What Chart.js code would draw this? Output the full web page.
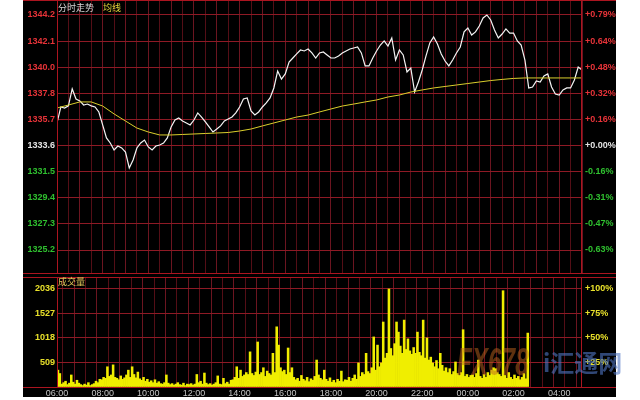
<!DOCTYPE html>
<html lang="zh">
<head>
<meta charset="utf-8">
<title>分时走势</title>
<script src="https://cdn.jsdelivr.net/npm/chart.js@4.4.1/dist/chart.umd.min.js"></script>
<style>
  html, body { margin: 0; padding: 0; background: #fff; width: 640px; height: 400px; overflow: hidden; }
  #board { position: absolute; left: 23px; top: 0; width: 593px; height: 397px; background: #000; }
  #board canvas { position: absolute; left: 0; }
  #price { top: 0; }
  #volume { top: 277px; }
  .txt { position: absolute; font-family: "Noto Sans CJK SC", sans-serif; font-size: 9px; line-height: 10px; white-space: nowrap; z-index: 2; }
  .mark { position: absolute; white-space: nowrap; z-index: 3; pointer-events: none; }
</style>
</head>
<body>
<div id="board">
  <canvas id="price" width="593" height="274"></canvas>
  <canvas id="volume" width="593" height="120"></canvas>
</div>
<div class="txt" style="left:58px; top:3px; color:#d6d6d6;">分时走势</div>
<div class="txt" style="left:103px; top:3px; color:#e2d63a;">均线</div>
<div class="txt" style="left:58px; top:277px; color:#e0c458;">成交量</div>
<div class="mark" style="left:457px; top:341px; font: italic bold 38px 'Liberation Sans', sans-serif; color: rgba(190,100,30,0.5); transform: scaleX(0.64); transform-origin: left top;">FX678</div>
<div class="mark" style="left:543px; top:347px; font: bold 24px 'Noto Sans CJK SC', sans-serif; line-height: 30px; color: rgba(80,118,196,0.6);">i汇通网</div>

<script>
const timeLabels = ['06:00', '08:00', '10:00', '12:00', '14:00', '16:00', '18:00', '20:00', '22:00', '00:00', '02:00', '04:00']
const priceLabels = ['1344.2', '1342.1', '1340.0', '1337.8', '1335.7', '1333.6', '1331.5', '1329.4', '1327.3', '1325.2']
const pctLabels = ['+0.79%', '+0.64%', '+0.48%', '+0.32%', '+0.16%', '+0.00%', '-0.16%', '-0.31%', '-0.47%', '-0.63%']
const volLabels = ['2036', '1527', '1018', '509']
const volPctLabels = ['+100%', '+75%', '+50%', '+25%']

// price, one value every 10 minutes from 06:00
const priceValues = [
    1335.47, 1336.76, 1336.68, 1336.85, 1338.22, 1337.41, 1337.25, 1336.92, 1337.00, 1336.85,
    1336.76, 1336.36, 1335.31, 1334.26, 1333.85, 1333.29, 1333.61, 1333.45, 1333.12, 1331.83,
    1332.48, 1333.45, 1333.85, 1334.09, 1333.53, 1333.29, 1333.61, 1333.69, 1333.85, 1334.26,
    1335.15, 1335.71, 1335.87, 1335.63, 1335.47, 1335.31, 1335.71, 1336.28, 1335.95, 1335.55,
    1335.15, 1334.74, 1334.98, 1335.23, 1335.63, 1335.79, 1335.95, 1336.28, 1336.76, 1337.41,
    1337.49, 1336.44, 1336.12, 1336.36, 1336.76, 1337.09, 1337.49, 1338.30, 1339.67, 1339.02,
    1339.43, 1340.40, 1340.72, 1341.05, 1341.37, 1341.29, 1341.45, 1341.13, 1340.72, 1341.13,
    1341.21, 1340.97, 1340.72, 1340.72, 1340.89, 1341.13, 1341.29, 1341.45, 1341.53, 1341.61,
    1341.13, 1340.08, 1340.08, 1340.72, 1341.29, 1341.77, 1342.10, 1341.69, 1342.34, 1340.56,
    1341.37, 1340.97, 1339.59, 1339.91, 1337.97, 1338.78, 1339.75, 1340.89, 1341.94, 1342.42,
    1341.86, 1341.05, 1340.48, 1340.08, 1340.56, 1341.13, 1341.61, 1342.83, 1343.15, 1342.58,
    1342.83, 1343.31, 1343.96, 1344.20, 1343.80, 1342.99, 1342.34, 1342.66, 1343.07, 1342.74,
    1342.74, 1342.10, 1341.77, 1340.56, 1338.30, 1338.38, 1338.86, 1338.78, 1339.27, 1339.43,
    1338.38, 1337.81, 1337.73, 1338.14, 1338.30, 1338.30, 1338.94, 1339.99, 1339.75
]

// average line, one value every 30 minutes
const avgValues = [
    1336.68, 1336.92, 1337.17, 1337.17, 1336.84, 1336.20, 1335.63, 1335.06, 1334.74, 1334.50,
    1334.50, 1334.54, 1334.58, 1334.62, 1334.66, 1334.70, 1334.82, 1334.98, 1335.23, 1335.47,
    1335.71, 1335.95, 1336.11, 1336.36, 1336.60, 1336.84, 1337.00, 1337.17, 1337.33, 1337.57,
    1337.73, 1337.97, 1338.14, 1338.30, 1338.42, 1338.54, 1338.66, 1338.78, 1338.90, 1338.99,
    1339.07, 1339.11, 1339.11, 1339.11, 1339.11, 1339.11, 1339.11
]

// volume, one bar every 5 minutes from 06:00
const volValues = [
    350, 280, 60, 90, 120, 50, 80, 250, 100, 60, 140, 80, 50, 30, 60, 40, 90, 30, 50, 70,
    120, 90, 160,
    150, 200, 180, 420, 220, 250, 460, 200, 180, 150, 230, 160, 190, 250, 350, 200, 420, 260,
    190, 310, 170, 140, 200, 120, 160, 100, 130, 90, 150, 80, 110, 70,
    60, 90, 250, 80, 50, 70, 40, 60, 90, 50, 40, 80, 30, 60, 50, 70, 40, 60, 260, 90,
    120, 60, 290, 80, 50, 70, 40, 60, 90, 230, 60, 50, 180, 70, 100, 60, 140,
    150, 200, 420, 180, 350, 220, 250, 300, 260, 730, 280, 240, 310, 935, 260, 300, 400, 220,
    330, 280, 250, 700, 300, 1250, 870, 400, 320, 350, 260, 810, 300, 400,
    200, 150, 180, 120, 240, 160, 130, 200, 110, 170, 140, 220, 560, 250, 180, 150, 350, 160,
    120, 190, 100, 140, 90, 160, 120, 330, 110, 150,
    140, 200, 120, 180, 250, 160, 500, 220, 300, 260, 700, 320, 280, 400, 1040, 350, 870, 420, 500,
    1350, 600, 700, 2036, 800, 650, 900, 1350, 1140, 850, 700, 1390, 780, 1000, 750, 680, 820,
    700, 1140, 720, 650, 1390, 600, 1020, 560, 620,
    500, 420, 550, 380, 700, 450, 330, 400, 300, 380, 260, 320, 520, 280, 240, 300, 1190, 220,
    260, 200, 240,
    250, 200, 280, 560, 220, 180, 260, 200, 300, 240, 350, 400, 380, 300, 260, 220, 2000, 240,
    180, 300, 200, 160, 250, 180, 220, 150, 200, 280, 170, 1120
]

const priceTop = parseFloat(priceLabels[0])
const priceBottom = parseFloat(priceLabels[priceLabels.length - 1])
const priceStep = (priceTop - priceBottom) / (priceLabels.length - 1)
const volTicks = [0].concat(volLabels.slice().reverse().map(Number))

const gridRed = '#8e1a25'
const frameRed = '#ac1520'

function labelColor(ctx) {
    const s = pctLabels[ctx.index]
    if (s === '+0.00%') return '#e4e4e4'
    return s[0] === '+' ? '#e63338' : '#2fc02f'
}

function fixWidth(w) {
    return function (scale) {
        scale.width = w
        scale.paddingTop = 0
        scale.paddingBottom = 0
    }
}

function fixHeight(h) {
    return function (scale) {
        scale.height = h
        scale.paddingLeft = 0
        scale.paddingRight = 0
    }
}

function priceTicks(scale) {
    scale.ticks = priceLabels.map((t, i) => ({ value: priceTop - i * priceStep }))
}

function volumeTicks(scale) {
    scale.ticks = volTicks.map(v => ({ value: v }))
}

function timeGrid(ctx) {
    if (!ctx.tick) return '#540e16'
    return ctx.tick.value % 60 === 0 ? '#6c1520' : '#540e16'
}

// red frame: full width separators and the two plot borders
const framePlugin = {
    id: 'frame',
    afterDraw(chart, args, opts) {
        const ctx = chart.ctx
        const a = chart.chartArea
        ctx.save()
        ctx.strokeStyle = frameRed
        ctx.lineWidth = 1
        ctx.beginPath()
        opts.rows.forEach(function (y) {
            ctx.moveTo(0, y + 0.5)
            ctx.lineTo(chart.width, y + 0.5)
        })
        ctx.moveTo(Math.round(a.left) + 0.5, 0)
        ctx.lineTo(Math.round(a.left) + 0.5, a.bottom)
        ctx.moveTo(Math.round(a.right) - 0.5, 0)
        ctx.lineTo(Math.round(a.right) - 0.5, a.bottom)
        ctx.stroke()
        ctx.restore()
    }
}

const axisFont = { family: 'Liberation Sans', size: 9, weight: 'bold' }

new Chart(document.getElementById('price'), {
    type: 'line',
    data: {
        datasets: [{
            data: avgValues.map((v, i) => ({ x: i * 30, y: v })),
            borderColor: '#d9cf2c',
            borderWidth: 1,
            pointRadius: 0,
            tension: 0
        }, {
            data: priceValues.map((v, i) => ({ x: i * 10, y: v })),
            borderColor: '#f4f4f4',
            borderWidth: 1.2,
            pointRadius: 0,
            tension: 0
        }]
    },
    options: {
        responsive: false,
        animation: false,
        devicePixelRatio: 1,
        layout: { autoPadding: false, padding: { top: 1, bottom: 0, left: 0, right: 0 } },
        plugins: {
            legend: { display: false },
            tooltip: { enabled: false },
            frame: { rows: [0, 273] }
        },
        scales: {
            x: {
                type: 'linear',
                min: 0,
                max: 1380,
                ticks: { display: false, stepSize: 30, autoSkip: false },
                grid: { color: timeGrid, drawTicks: false },
                border: { display: false },
                afterFit: fixHeight(0)
            },
            y: {
                position: 'left',
                min: 1323.26,
                max: 1345.33,
                afterBuildTicks: priceTicks,
                ticks: {
                    autoSkip: false,
                    padding: 2,
                    color: labelColor,
                    font: axisFont,
                    callback: (v, i) => priceLabels[i]
                },
                grid: { color: gridRed, drawTicks: false },
                border: { display: false },
                afterFit: fixWidth(34)
            },
            y2: {
                position: 'right',
                min: 1323.26,
                max: 1345.33,
                afterBuildTicks: priceTicks,
                ticks: {
                    autoSkip: false,
                    padding: 3,
                    color: labelColor,
                    font: axisFont,
                    callback: (v, i) => pctLabels[i]
                },
                grid: { display: false, drawTicks: false },
                border: { display: false },
                afterFit: fixWidth(34)
            }
        }
    },
    plugins: [framePlugin]
});

new Chart(document.getElementById('volume'), {
    type: 'bar',
    data: {
        datasets: [{
            data: volValues.map((v, i) => ({ x: i * 5 + 2.5, y: v })),
            backgroundColor: '#f0ee00',
            borderWidth: 0,
            barPercentage: 1,
            categoryPercentage: 1
        }]
    },
    options: {
        responsive: false,
        animation: false,
        devicePixelRatio: 1,
        layout: { autoPadding: false, padding: 0 },
        plugins: {
            legend: { display: false },
            tooltip: { enabled: false },
            frame: { rows: [0, 110] }
        },
        scales: {
            x: {
                type: 'linear',
                min: 0,
                max: 1380,
                offset: false,
                ticks: {
                    stepSize: 30,
                    autoSkip: false,
                    maxRotation: 0,
                    padding: 1,
                    color: '#c4c4c4',
                    font: { family: 'Liberation Sans', size: 9 },
                    callback: v => v % 120 === 0 ? timeLabels[v / 120] : ''
                },
                grid: { color: timeGrid, drawTicks: false },
                border: { display: false },
                afterFit: fixHeight(10)
            },
            y: {
                position: 'left',
                min: 0,
                max: 2285,
                afterBuildTicks: volumeTicks,
                ticks: {
                    autoSkip: false,
                    padding: 2,
                    color: '#e8e02a',
                    font: axisFont,
                    callback: (v, i) => i === 0 ? '' : volLabels[volLabels.length - i]
                },
                grid: { color: gridRed, drawTicks: false },
                border: { display: false },
                afterFit: fixWidth(34)
            },
            y2: {
                position: 'right',
                min: 0,
                max: 2285,
                afterBuildTicks: volumeTicks,
                ticks: {
                    autoSkip: false,
                    padding: 3,
                    color: '#e8e02a',
                    font: axisFont,
                    callback: (v, i) => i === 0 ? '' : volPctLabels[volPctLabels.length - i]
                },
                grid: { display: false, drawTicks: false },
                border: { display: false },
                afterFit: fixWidth(34)
            }
        }
    },
    plugins: [framePlugin]
});
</script>
</body>
</html>
